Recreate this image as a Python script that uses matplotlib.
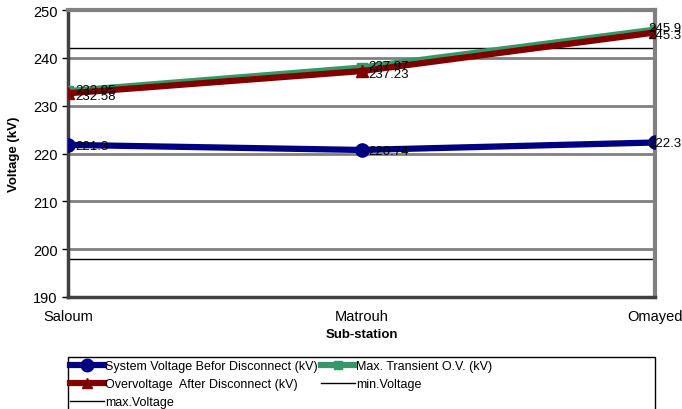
import matplotlib
matplotlib.use("Agg")
import matplotlib.pyplot as plt
from matplotlib.lines import Line2D
from matplotlib.patches import Rectangle

# substations along the line
stations = ["Saloum", "Matrouh", "Omayed"]

# voltages in kV
system_voltage = [221.8, 220.74, 222.3]
transient_ov = [233.05, 237.97, 245.9]
overvoltage_after = [232.58, 237.23, 245.3]
min_voltage = 198
max_voltage = 242

W, H = 682, 410
FONT = "Liberation Sans"
fig = plt.figure(figsize=(W / 100, H / 100), dpi=100)
ax = fig.add_axes([68 / W, 1 - 298 / H, (655 - 68) / W, (298 - 11) / H])

x = list(range(len(stations)))

ax.axhline(min_voltage, color="black", lw=1.0, zorder=2)
ax.axhline(max_voltage, color="black", lw=1.0, zorder=2)

ax.plot(x, system_voltage, color="#000080", lw=4.5, marker="o", ms=9.5, zorder=4)
ax.plot(x, transient_ov, color="#339966", lw=4.5, marker="s", ms=7, zorder=4)
ax.plot(x, overvoltage_after, color="#800000", lw=4.5, marker="^", ms=8, zorder=5)

# value labels just right of each point; last column pulled back to stay inside
for series, dy in ((system_voltage, -0.5), (transient_ov, 1), (overvoltage_after, -2)):
    for xi, v in zip(x, series):
        dx = -5 if xi == x[-1] else 5
        ax.annotate(f"{v:g}", (xi, v), xytext=(dx, dy), textcoords="offset points",
                    fontsize=9.5, ha="left", va="center", family=FONT,
                    zorder=6, annotation_clip=False)

ax.set_xlim(0, 2)
ax.set_ylim(190, 250)
ax.set_yticks(range(190, 251, 10))
ax.yaxis.grid(True, color="#808080", lw=2)
ax.set_axisbelow(True)
ax.set_xticks(x)
ax.set_xticklabels(stations, family=FONT, fontsize=10.5)
for lbl in ax.get_yticklabels():
    lbl.set_family(FONT)
    lbl.set_fontsize(10.5)
ax.tick_params(axis="x", length=0, pad=9)
ax.tick_params(axis="y", length=4, width=1, direction="out")

for side in ("top", "right"):
    ax.spines[side].set_color("#808080")
    ax.spines[side].set_linewidth(3)
for side in ("left", "bottom"):
    ax.spines[side].set_color("#404040")
    ax.spines[side].set_linewidth(2.5)

ax.set_xlabel("Sub-station", family=FONT, fontsize=9.5, weight="bold", labelpad=3)
ax.set_ylabel("Voltage (kV)", family=FONT, fontsize=9.5, weight="bold", labelpad=9)

h_sys = Line2D([], [], color="#000080", lw=4.5, marker="o", ms=9)
h_tr = Line2D([], [], color="#339966", lw=4.5, marker="s", ms=6)
h_ov = Line2D([], [], color="#800000", lw=4.5, marker="^", ms=7)
h_min = Line2D([], [], color="black", lw=1)
h_max = Line2D([], [], color="black", lw=1)
handles = [h_sys, h_ov, h_max, h_tr, h_min]
labels = ["System Voltage Befor Disconnect (kV)", "Overvoltage  After Disconnect (kV)",
          "max.Voltage", "Max. Transient O.V. (kV)", "min.Voltage"]
leg = fig.legend(handles, labels, ncol=2, loc="upper left",
                 bbox_to_anchor=(70 / W, 1 - 361 / H),
                 prop={"family": FONT, "size": 9},
                 frameon=False, handlelength=2.7, handletextpad=0.1,
                 columnspacing=0.3, labelspacing=0.5, borderpad=0, borderaxespad=0)

# legend box spans the plot width and runs off the bottom edge
fig.add_artist(Rectangle((68 / W, -0.01), (655 - 68) / W, 0.01 + 52 / H,
                         transform=fig.transFigure, fill=False,
                         edgecolor="black", lw=1))

fig.savefig("out.png", dpi=100)
